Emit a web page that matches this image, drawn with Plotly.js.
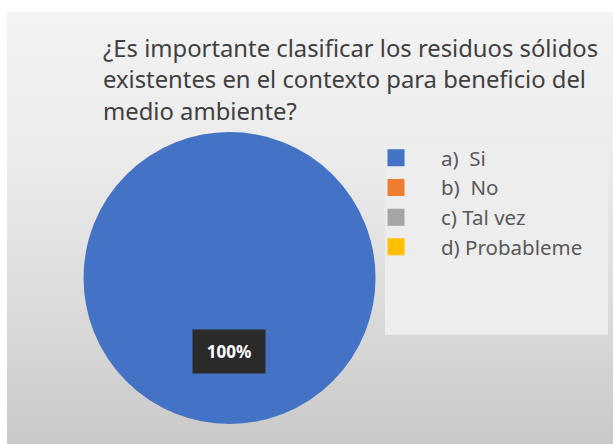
<!DOCTYPE html>
<html>
<head>
<meta charset="utf-8">
<script src="https://cdn.plot.ly/plotly-3.0.1.min.js"></script>
<style>
html,body{margin:0;padding:0;background:#ffffff;width:613px;height:444px;overflow:hidden;}
#chart{position:absolute;left:7px;top:12px;width:606px;height:432px;
background:linear-gradient(180deg,#f3f3f3 0%,#ebebeb 35%,#dadada 70%,#c9c9c9 100%);}
</style>
</head>
<body>
<div id="chart"></div>
<script>
var titleLines = ["¿Es importante clasificar los residuos sólidos",
                  "existentes en el contexto para beneficio del",
                  "medio ambiente?"];
var categories = ["a)\u00a0 Si", "b)\u00a0 No", "c) Tal vez", "d) Probableme"];
var values = [100, 0, 0, 0];
var colors = ["#4472c4", "#ed7d31", "#a5a5a5", "#ffc000"];

var total = values.reduce(function(a,b){return a+b;},0);
var pctLabel = Math.round(values[0] / total * 100) + "%";

// slices are drawn in reverse so the full slice is painted last (on top);
// the legend order is reversed back so it reads a), b), c), d)
var rev = function(a){ return a.slice().reverse(); };

var trace = {
  type: "pie",
  labels: rev(categories),
  values: rev(values),
  sort: false,
  direction: "clockwise",
  rotation: 0,
  textinfo: "none",
  hoverinfo: "none",
  marker: {colors: rev(colors), line: {width: 5, color: rev(colors)}},
  domain: {x: [0.1304, 0.6040], y: [0.0521, 0.7164]},
  showlegend: true
};

var layout = {
  width: 606, height: 432,
  margin: {l: 0, r: 0, t: 0, b: 0},
  paper_bgcolor: "rgba(0,0,0,0)",
  plot_bgcolor: "rgba(0,0,0,0)",
  font: {family: "Noto Sans, sans-serif", color: "#595959"},
  title: {
    text: titleLines.map(function(t){return '<span style="font-size:23.8px">' + t + '</span>';}).join("<br>"),
    font: {family: "Noto Sans, sans-serif", size: 24.2, color: "#404040"},
    x: 96/606, xref: "paper", xanchor: "left",
    y: 1 - 45/432, yref: "container", yanchor: "top"
  },
  shapes: [{
    type: "rect", xref: "paper", yref: "paper",
    x0: 378/606, x1: 601/606, y0: 1 - 323/432, y1: 1 - 131/432,
    fillcolor: "#ededed", line: {width: 0}, layer: "below"
  }],
  legend: {
    x: 344/606, y: 1 - 126/432, xanchor: "left", yanchor: "top",
    bgcolor: "rgba(0,0,0,0)",
    font: {size: 20.5, color: "#595959", family: "Noto Sans, sans-serif"},
    itemwidth: 80,
    traceorder: "reversed"
  },
  annotations: [{
    text: "<b>" + pctLabel + "</b>",
    xref: "paper", yref: "paper",
    x: 222/606, y: 1 - 339/432,
    xanchor: "center", yanchor: "middle",
    showarrow: false,
    bgcolor: "#2a2a2a",
    width: 70, height: 41,
    font: {size: 17, color: "#ffffff", family: "Noto Sans, sans-serif"}
  }]
};

Plotly.newPlot("chart", [trace], layout, {displayModeBar: false, staticPlot: true});
</script>
</body>
</html>
